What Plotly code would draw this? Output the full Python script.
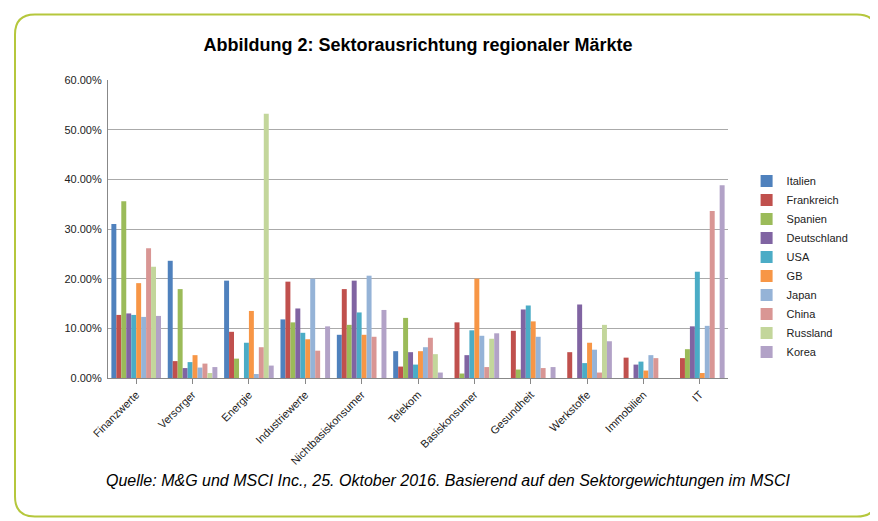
import plotly.graph_objects as go

sektoren = ["Finanzwerte", "Versorger", "Energie", "Industriewerte", "Nichtbasiskonsumer",
            "Telekom", "Basiskonsumer", "Gesundheit", "Werkstoffe", "Immobilien", "IT"]

# Gewichte in Prozent je Land (Reihenfolge wie sektoren)
daten = {
    "Italien":     [31.0, 23.6, 19.6, 11.8, 8.7, 5.4, 0.0, 0.0, 0.0, 0.0, 0.0],
    "Frankreich":  [12.7, 3.4, 9.3, 19.4, 17.9, 2.3, 11.2, 9.5, 5.2, 4.1, 4.0],
    "Spanien":     [35.6, 17.9, 3.9, 11.2, 10.7, 12.1, 0.9, 1.7, 0.0, 0.0, 5.8],
    "Deutschland": [13.0, 2.0, 0.0, 14.0, 19.6, 5.2, 4.6, 13.8, 14.8, 2.7, 10.4],
    "USA":         [12.7, 3.2, 7.1, 9.1, 13.2, 2.7, 9.6, 14.6, 3.0, 3.3, 21.4],
    "GB":          [19.1, 4.6, 13.5, 7.8, 8.7, 5.4, 20.0, 11.4, 7.1, 1.5, 1.0],
    "Japan":       [12.3, 2.1, 0.8, 20.0, 20.6, 6.2, 8.5, 8.3, 5.7, 4.6, 10.5],
    "China":       [26.1, 2.9, 6.2, 5.5, 8.3, 8.1, 2.2, 2.0, 1.1, 4.0, 33.6],
    "Russland":    [22.4, 1.0, 53.2, 0.0, 0.0, 4.8, 7.9, 0.0, 10.7, 0.0, 0.0],
    "Korea":       [12.5, 2.2, 2.5, 10.4, 13.7, 1.1, 9.0, 2.2, 7.4, 0.0, 38.8],
}
farben = ["#4F81BD", "#C0504D", "#9BBB59", "#8064A2", "#4BACC6",
          "#F79646", "#95B3D7", "#D99694", "#C3D69B", "#B2A2C7"]

fig = go.Figure()
for (land, werte), farbe in zip(daten.items(), farben):
    fig.add_trace(go.Bar(x=sektoren, y=[w / 100 for w in werte], name=land,
                         marker=dict(color=farbe, line=dict(width=0))))

# Rahmen mit runden Ecken (Papierkoordinaten)
x0, x1, y0, y1 = -0.150, 1.240, -0.465, 1.220
rx, ry = 0.032, 0.067
rahmen = (f"M {x0+rx},{y1} L {x1-rx},{y1} Q {x1},{y1} {x1},{y1-ry} "
          f"L {x1},{y0+ry} Q {x1},{y0} {x1-rx},{y0} "
          f"L {x0+rx},{y0} Q {x0},{y0} {x0},{y0+ry} "
          f"L {x0},{y1-ry} Q {x0},{y1} {x0+rx},{y1} Z")

fig.update_layout(
    width=878, height=521,
    plot_bgcolor="white", paper_bgcolor="white",
    font=dict(family="Liberation Sans, Arial", size=11, color="#222"),
    margin=dict(l=100, r=158, t=72, b=151),
    bargap=0.12, bargroupgap=0,
    title=dict(text="<b>Abbildung 2: Sektorausrichtung regionaler Märkte</b>",
               x=0.5, xref="paper", y=0.93, yanchor="middle",
               font=dict(size=18, color="black")),
    legend=dict(x=1.03, y=0.71, xanchor="left", yanchor="top",
                font=dict(size=11), tracegroupgap=0, itemwidth=30,
                bgcolor="rgba(0,0,0,0)"),
    xaxis=dict(tickangle=-45, showline=True, linecolor="#888", ticks="outside",
               tickcolor="#888", tickfont=dict(size=11)),
    yaxis=dict(range=[0, 0.6], dtick=0.1, tickformat=".2%", showgrid=True,
               gridcolor="#aaa", showline=True, linecolor="#888",
               tickfont=dict(size=11), ticksuffix=" "),
    shapes=[dict(type="path", xref="paper", yref="paper", path=rahmen,
                 line=dict(color="#B5C73C", width=2))],
    annotations=[dict(text="<i>Quelle: M&G und MSCI Inc., 25. Oktober 2016. Basierend auf den Sektorgewichtungen im MSCI</i>",
                      xref="paper", yref="paper", x=0.548, y=-0.38, showarrow=False,
                      font=dict(size=16, color="black"))],
)

fig.write_html("out.html")
